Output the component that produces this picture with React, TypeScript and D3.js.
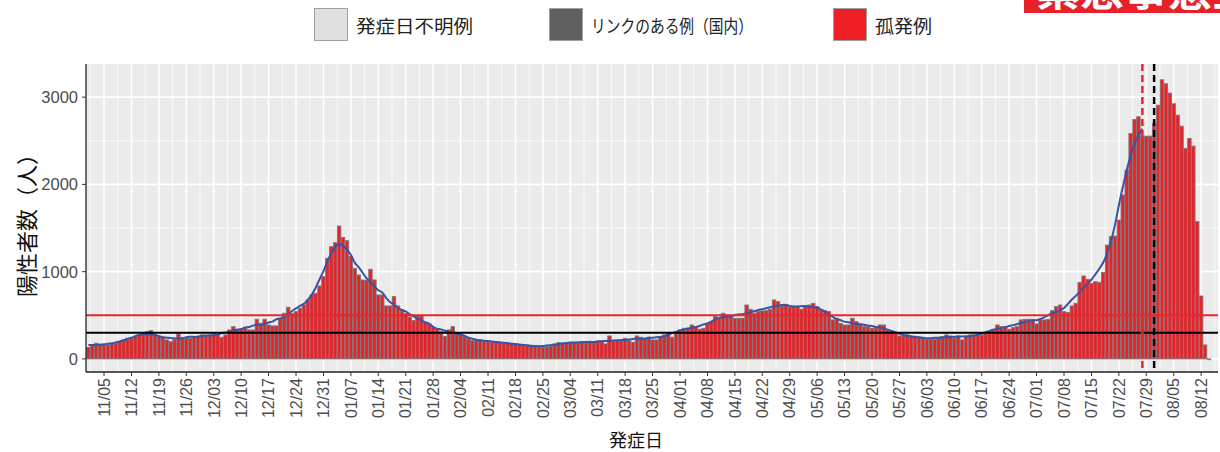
import React from 'react';
import * as d3 from 'd3';

// ---------- data ----------
const startDate = '2020-11-01';
const novCounts = [130,160,180,168,160,160,172,180,198,218,237,237,256,275,286,313,324,275,256,248,218,198,225,286,237,237,237,256,256,275];
const decCounts = [263,275,286,275,248,275,332,370,340,340,351,332,332,454,408,454,389,378,378,466,523,592,523,542,580,618,675,733,752,836,943];
const janCounts = [1153,1286,1332,1523,1393,1355,1172,1038,962,905,900,1027,905,733,733,607,607,714,607,561,523,480,439,492,492,416,401,359,340,313,256];
const febCounts = [332,370,294,275,256,230,210,218,218,210,202,200,198,187,187,180,179,172,165,150,156,153,150,149,134,138,141,172];
const marCounts = [187,180,179,187,187,190,198,187,198,198,198,198,172,263,198,206,206,237,210,191,263,248,237,248,218,218,256,275,294,248,313];
const aprCounts = [332,351,351,389,370,340,351,408,427,485,466,523,504,477,466,466,466,618,569,523,542,550,553,569,676,657,600,618,592,607];
const mayCounts = [600,569,607,618,637,600,561,553,542,447,466,408,389,389,466,427,401,370,370,351,363,389,389,332,320,294,263,263,275,263,248];
const junCounts = [248,248,225,225,225,237,256,275,263,237,263,218,263,275,275,275,275,294,302,340,389,370,370,340,359,370,447,454,454,454];
const julCounts = [401,447,447,454,553,599,618,542,531,607,637,878,950,912,866,885,878,992,1305,1401,1408,1592,1878,2164,2584,2744,2775,2553,2553,2553,2700];
const augCounts = [2908,3199,3153,3046,2924,2794,2668,2412,2527,2439,1573,721,160,0];

const tickLabels = ['11/05','11/12','11/19','11/26','12/03','12/10','12/17','12/24','12/31','01/07','01/14','01/21','01/28','02/04','02/11','02/18','02/25','03/04','03/11','03/18','03/25','04/01','04/08','04/15','04/22','04/29','05/06','05/13','05/20','05/27','06/03','06/10','06/17','06/24','07/01','07/08','07/15','07/22','07/29','08/05','08/12'];
const yTicks = [0, 1000, 2000, 3000];
const yMinor = [500, 1500, 2500];
const thresholdValues = [500, 300];
const markerDates = ['2021-07-28', '2021-07-31'];
const smoothEndDate = '2021-07-28';
const legendLabels = ['発症日不明例', 'リンクのある例（国内）', '孤発例'];
const yTitle = '陽性者数（人）';
const xTitle = '発症日';
const bannerText = '緊急事態宣言';

const counts = [...novCounts, ...decCounts, ...janCounts, ...febCounts, ...marCounts, ...aprCounts, ...mayCounts, ...junCounts, ...julCounts, ...augCounts];

// ---------- layout ----------
const W = 1220, H = 452;
const panel = { left: 86, right: 1218, top: 64, bottom: 372 };
const JP = '"Noto Sans CJK JP", "Noto Sans", sans-serif';
const NUM = '"Liberation Sans", Arial, sans-serif';
const RED = '#ee1f26';

const parse = d3.utcParse('%Y-%m-%d');
const start = parse(startDate) as Date;
const dayAt = (i: number) => d3.utcDay.offset(start, i);

export default function App() {
  const x = d3.scaleUtc()
    .domain([new Date(+start - 0.6 * 864e5), new Date(+start + 288.3 * 864e5)])
    .range([panel.left, panel.right]);
  const y = d3.scaleLinear().domain([-150, 3380]).range([panel.bottom, panel.top]);
  const bw = (x(dayAt(1)) - x(dayAt(0))) * 0.88;

  const data = counts.map((v, i) => ({ date: dayAt(i), v, i }));
  const tickDates = tickLabels.map(l => {
    const [m, d] = l.split('/').map(Number);
    return new Date(Date.UTC(m >= 11 ? 2020 : 2021, m - 1, d));
  });
  const minorDates = [new Date(+tickDates[0] - 3.5 * 864e5), ...tickDates.map(t => new Date(+t + 3.5 * 864e5))];

  const endIdx = d3.utcDay.count(start, parse(smoothEndDate) as Date);
  const smooth = data.slice(0, endIdx + 1).map((d, i) => {
    const win = counts.slice(Math.max(0, i - 3), Math.min(counts.length, i + 4));
    return { date: d.date, v: d3.mean(win) as number };
  });
  const line = d3.line<{ date: Date; v: number }>().x(d => x(d.date)).y(d => y(d.v)).curve(d3.curveMonotoneX);

  const legendBoxX = [314, 549, 833];
  const legendTextLen = [117, 162, 57];
  const legendFill = ['#e0e0e0', '#606060', RED];

  return (
    <svg width={W} height={H} style={{ position: 'absolute', left: 0, top: 0, background: '#fff' }}>
      <defs>
        <clipPath id="bannerClip"><rect x={1024} y={0} width={196} height={13} /></clipPath>
        <clipPath id="panelClip"><rect x={panel.left} y={panel.top} width={panel.right - panel.left} height={panel.bottom - panel.top} /></clipPath>
      </defs>
      {/* banner */}
      <rect x={1024} y={0} width={196} height={13} fill="#e8202a" />
      <g clipPath="url(#bannerClip)">
        <text x={1036} y={6} fontFamily={JP} fontSize={44} fontWeight={700} fill="#fff">{bannerText}</text>
      </g>

      {/* legend */}
      {legendLabels.map((l, i) => (
        <g key={l}>
          <rect x={legendBoxX[i] + 0.5} y={8.5} width={33} height={32} fill={legendFill[i]} stroke="#a0a0a0" strokeWidth={1} />
          <text x={legendBoxX[i] + 42} y={33} fontFamily={JP} fontSize={18} fill="#222" textLength={legendTextLen[i]} lengthAdjust="spacingAndGlyphs">{l}</text>
        </g>
      ))}

      {/* panel */}
      <rect x={panel.left} y={panel.top} width={panel.right - panel.left} height={panel.bottom - panel.top} fill="#ebebeb" />
      {yMinor.map(v => <line key={'ym' + v} x1={panel.left} x2={panel.right} y1={y(v)} y2={y(v)} stroke="#fff" strokeWidth={0.8} />)}
      {minorDates.map((t, i) => <line key={'xm' + i} x1={x(t)} x2={x(t)} y1={panel.top} y2={panel.bottom} stroke="#fff" strokeWidth={0.8} />)}
      {yTicks.map(v => <line key={'yg' + v} x1={panel.left} x2={panel.right} y1={y(v)} y2={y(v)} stroke="#fff" strokeWidth={1.6} />)}
      {tickDates.map((t, i) => <line key={'xg' + i} x1={x(t)} x2={x(t)} y1={panel.top} y2={panel.bottom} stroke="#fff" strokeWidth={1.6} />)}

      <g clipPath="url(#panelClip)">
        {data.map(d => (
          <rect key={d.i} x={x(d.date) - bw / 2} width={bw} y={y(Math.max(d.v, 0))} height={Math.max(0.8, y(0) - y(d.v))}
            fill={RED} stroke="#7a7a7a" strokeWidth={0.9} />
        ))}
        <path d={line(smooth) || ''} fill="none" stroke="#3953a4" strokeWidth={2} />
        {thresholdValues.map((v, i) => (
          <line key={'th' + v} x1={panel.left} x2={panel.right} y1={y(v)} y2={y(v)} stroke={i === 0 ? '#e8262b' : '#000'} strokeWidth={2} />
        ))}
        {markerDates.map((m, i) => {
          const px = x(parse(m) as Date);
          return <line key={m} x1={px} x2={px} y1={panel.top} y2={panel.bottom} stroke={i === 0 ? '#e8262b' : '#000'} strokeWidth={2.5} strokeDasharray="7,4" />;
        })}
      </g>

      {/* axes */}
      <line x1={panel.left} x2={panel.left} y1={panel.top} y2={panel.bottom} stroke="#222" strokeWidth={1.3} />
      <line x1={panel.left} x2={panel.right} y1={panel.bottom} y2={panel.bottom} stroke="#222" strokeWidth={1.3} />
      {yTicks.map(v => (
        <g key={'yt' + v}>
          <line x1={panel.left - 4} x2={panel.left} y1={y(v)} y2={y(v)} stroke="#333" strokeWidth={1} />
          <text x={panel.left - 8} y={y(v)} dy="0.36em" textAnchor="end" fontFamily={NUM} fontSize={16.5} fill="#4d4d4d">{v}</text>
        </g>
      ))}
      {tickDates.map((t, i) => (
        <g key={'xt' + i}>
          <line x1={x(t)} x2={x(t)} y1={panel.bottom} y2={panel.bottom + 4} stroke="#333" strokeWidth={1} />
          <text transform={`translate(${x(t)},${panel.bottom + 6}) rotate(-90)`} textAnchor="end" dy="0.36em" fontFamily={NUM} fontSize={16} fill="#4d4d4d">{tickLabels[i]}</text>
        </g>
      ))}
      <text transform={`translate(35,${(panel.top + panel.bottom) / 2 + 2}) rotate(-90)`} textAnchor="middle" fontFamily={JP} fontSize={22} fill="#111">{yTitle}</text>
      <text x={636} y={447} textAnchor="middle" fontFamily={JP} fontSize={18} fill="#111">{xTitle}</text>
    </svg>
  );
}
